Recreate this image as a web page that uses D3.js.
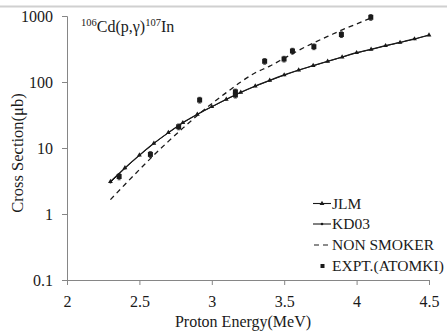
<!DOCTYPE html>
<html>
<head>
<meta charset="utf-8">
<script src="https://cdn.jsdelivr.net/npm/d3@7"></script>
<style>
  body { margin: 0; background: #fff; }
  svg { display: block; }
  text { font-family: "Liberation Serif", "Tinos", "Times New Roman", "DejaVu Serif", serif; }
</style>
</head>
<body>
<div class="chart"></div>
<script>
// proton energies (MeV) for the model curves
var energies = [2.3, 2.4, 2.5, 2.6, 2.7, 2.8, 2.9, 3.0, 3.1, 3.2, 3.3, 3.4, 3.5, 3.6, 3.7, 3.8, 3.9, 4.0, 4.1, 4.2, 4.3, 4.4, 4.5];
var jlm = [3.1, 5.0, 7.8, 11.8, 17.1, 24.2, 32.4, 42.3, 54.7, 69.8, 86.9, 106, 128, 152, 177, 206, 239, 278, 313, 355, 398, 449, 515];
var kd03 = [3.0, 4.9, 7.7, 11.7, 17.0, 24.0, 32.2, 42.0, 54.3, 69.3, 86.3, 105, 127, 151, 176, 205, 238, 276, 311, 353, 396, 447, 512];

var nsEnergies = [2.3, 2.4, 2.5, 2.6, 2.7, 2.8, 2.9, 3.0, 3.1, 3.2, 3.3, 3.4, 3.5, 3.6, 3.7, 3.8, 3.9, 4.0, 4.1];
var nonSmoker = [1.65, 2.8, 4.7, 7.8, 12.6, 20, 31, 47, 69, 100, 138, 174, 229, 302, 389, 490, 617, 759, 933];

var exptE = [2.36, 2.576, 2.771, 2.916, 3.163, 3.163, 3.365, 3.499, 3.557, 3.705, 3.895, 4.098];
var exptSigma = [3.7, 8.0, 21.0, 53.3, 71, 63.5, 206, 223, 295, 343, 524, 955];
var exptErr = [0.4, 0.8, 2.1, 5.3, 7, 6.3, 20, 22, 29, 34, 52, 95];

var xTicks = [2, 2.5, 3, 3.5, 4, 4.5];
var yTicks = [0.1, 1, 10, 100, 1000];
var legendLabels = ["JLM", "KD03", "NON SMOKER", "EXPT.(ATOMKI)"];

var width = 447, height = 334;
var margin = { top: 16, right: 18, bottom: 54, left: 67 };
var serif = '"Liberation Serif", "Tinos", "Times New Roman", "DejaVu Serif", serif';
var ink = "#1a1a1a";

var svg = d3.select(".chart").append("svg")
  .attr("width", width).attr("height", height);

// faint rule across the top of the picture
svg.append("line")
  .attr("x1", 0).attr("x2", width)
  .attr("y1", 6.5).attr("y2", 6.5)
  .attr("stroke", "#d0d0d0").attr("stroke-width", 2);

var x = d3.scaleLinear().domain([2, 4.5]).range([margin.left, width - margin.right]);
var y = d3.scaleLog().domain([0.1, 1000]).range([height - margin.bottom, margin.top]);

var axisColor = "#868686";

var xAxis = svg.append("g")
  .attr("transform", "translate(0," + (height - margin.bottom) + ")")
  .call(d3.axisBottom(x).tickValues(xTicks).tickSize(5).tickPadding(11).tickFormat(d3.format("")));
var yAxis = svg.append("g")
  .attr("transform", "translate(" + margin.left + ",0)")
  .call(d3.axisLeft(y).tickValues(yTicks).tickSize(5).tickPadding(9).tickFormat(function (d) { return d < 1 ? "0.1" : d3.format("")(d); }));

[xAxis, yAxis].forEach(function (a) {
  a.attr("font-family", serif).attr("font-size", 16);
  a.select(".domain").attr("stroke", axisColor);
  a.selectAll(".tick line").attr("stroke", axisColor);
  a.selectAll(".tick text").attr("fill", ink);
});

// axis titles
svg.append("text")
  .attr("x", 243)
  .attr("y", 327)
  .attr("text-anchor", "middle")
  .style("font-size", "16px")
  .attr("fill", ink)
  .text("Proton Energy(MeV)");

svg.append("text")
  .attr("transform", "translate(23,153) rotate(-90)")
  .attr("text-anchor", "middle")
  .style("font-size", "16.5px")
  .attr("fill", ink)
  .text("Cross Section(μb)");

// reaction label
var title = svg.append("text")
  .attr("x", 81).attr("y", 32)
  .style("font-size", "16px")
  .attr("fill", ink);
title.append("tspan").style("font-size", "10.5px").attr("dy", "-6").text("106");
title.append("tspan").attr("dy", "6").text("Cd(p,γ)");
title.append("tspan").style("font-size", "10.5px").attr("dy", "-6").text("107");
title.append("tspan").attr("dy", "6").text("In");

var line = d3.line()
  .x(function (d) { return x(d[0]); })
  .y(function (d) { return y(d[1]); })
  .curve(d3.curveMonotoneX);

var jlmData = energies.map(function (e, i) { return [e, jlm[i]]; });
var kdData = energies.map(function (e, i) { return [e, kd03[i]]; });
var nsData = nsEnergies.map(function (e, i) { return [e, nonSmoker[i]]; });

var plot = svg.append("g");

plot.append("path").datum(nsData)
  .attr("d", line).attr("fill", "none")
  .attr("stroke", ink).attr("stroke-width", 1.3)
  .attr("stroke-dasharray", "5,4");

plot.append("path").datum(kdData)
  .attr("d", line).attr("fill", "none")
  .attr("stroke", ink).attr("stroke-width", 1);

plot.append("path").datum(jlmData)
  .attr("d", line).attr("fill", "none")
  .attr("stroke", ink).attr("stroke-width", 1.2);

var tri = d3.symbol().type(d3.symbolTriangle).size(10);

plot.selectAll(".jlm").data(jlmData).enter().append("path")
  .attr("class", "jlm")
  .attr("transform", function (d) { return "translate(" + x(d[0]) + "," + y(d[1]) + ")"; })
  .attr("d", tri).attr("fill", ink);

plot.selectAll(".kd").data(kdData).enter().append("circle")
  .attr("class", "kd")
  .attr("cx", function (d) { return x(d[0]); })
  .attr("cy", function (d) { return y(d[1]); })
  .attr("r", 1.1).attr("fill", ink);

// experimental points with error bars
var expt = exptE.map(function (e, i) { return { e: e, s: exptSigma[i], err: exptErr[i] }; });

var eg = plot.selectAll(".expt").data(expt).enter().append("g").attr("class", "expt");
eg.append("line")
  .attr("x1", function (d) { return x(d.e); }).attr("x2", function (d) { return x(d.e); })
  .attr("y1", function (d) { return y(d.s - d.err); }).attr("y2", function (d) { return y(d.s + d.err); })
  .attr("stroke", ink).attr("stroke-width", 0.8);
[-1, 1].forEach(function (sgn) {
  eg.append("line")
    .attr("x1", function (d) { return x(d.e) - 1.5; }).attr("x2", function (d) { return x(d.e) + 1.5; })
    .attr("y1", function (d) { return y(d.s + sgn * d.err); }).attr("y2", function (d) { return y(d.s + sgn * d.err); })
    .attr("stroke", ink).attr("stroke-width", 0.8);
});
eg.append("rect")
  .attr("x", function (d) { return x(d.e) - 2.5; })
  .attr("y", function (d) { return y(d.s) - 2.5; })
  .attr("width", 5).attr("height", 5)
  .attr("fill", ink);

// legend
var legend = svg.append("g").attr("transform", "translate(313,0)");
var rowY = [203.5, 224, 245, 266];

legendLabels.forEach(function (label, i) {
  var row = legend.append("g").attr("transform", "translate(0," + rowY[i] + ")");
  if (i < 2) {
    row.append("line").attr("x1", 0).attr("x2", 18).attr("y1", 0).attr("y2", 0)
      .attr("stroke", ink).attr("stroke-width", 1.1);
    if (i == 0) {
      row.append("path").attr("transform", "translate(9,0)").attr("d", tri).attr("fill", ink);
    } else {
      row.append("circle").attr("cx", 9).attr("cy", 0).attr("r", 1.3).attr("fill", ink);
    }
  } else if (i == 2) {
    row.append("line").attr("x1", 1).attr("x2", 18).attr("y1", 0).attr("y2", 0)
      .attr("stroke", ink).attr("stroke-width", 1.2).attr("stroke-dasharray", "5,4");
  } else {
    row.append("rect").attr("x", 7.5).attr("y", -2).attr("width", 4).attr("height", 4).attr("fill", ink);
  }
  row.append("text")
    .attr("x", 19).attr("y", 0).attr("dy", "0.35em")
    .style("font-size", "15.5px")
    .attr("fill", ink)
    .text(label);
});
</script>
</body>
</html>
